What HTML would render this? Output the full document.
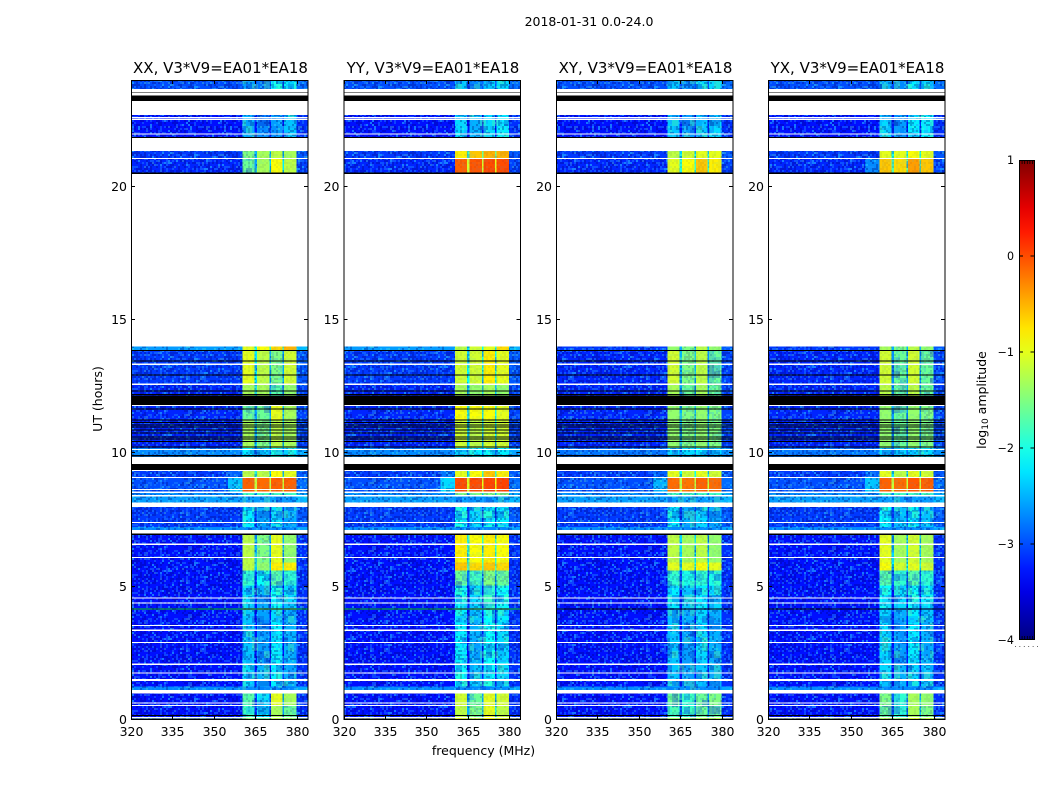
<!DOCTYPE html>
<html><head><meta charset="utf-8"><title>2018-01-31 amplitude waterfall</title>
<style>
html,body{margin:0;padding:0;background:#fff;width:1050px;height:800px;overflow:hidden}
svg{display:block}
text{font-family:"DejaVu Sans","Liberation Sans",sans-serif;fill:#000}
</style></head>
<body>
<svg id="fig" width="1050" height="800" viewBox="0 0 1050 800" xmlns="http://www.w3.org/2000/svg">
<defs>
<pattern id="speckle" width="92" height="68" patternUnits="userSpaceOnUse"></pattern>
<pattern id="mottle" width="90" height="84" patternUnits="userSpaceOnUse"></pattern>
<linearGradient id="jet-gradient" x1="0" y1="1" x2="0" y2="0"></linearGradient>
</defs>
<text x="589" y="26" font-size="12.5" text-anchor="middle">2018-01-31 0.0-24.0</text>
<text x="483.5" y="755" font-size="12.5" text-anchor="middle">frequency (MHz)</text>
<text transform="translate(102,399) rotate(-90)" font-size="12.5" text-anchor="middle">UT (hours)</text>
<text transform="translate(986,400) rotate(-90)" font-size="12.5" text-anchor="middle">log<tspan font-size="9" dy="2">10</tspan><tspan dy="-2"> amplitude</tspan></text>
<g id="panels"></g>
<g id="colorbar"></g>
</svg>
<script>
// ---- chart data ----
var panelTitles = ['XX, V3*V9=EA01*EA18','YY, V3*V9=EA01*EA18','XY, V3*V9=EA01*EA18','YX, V3*V9=EA01*EA18'];
var xTickLabels = [320,335,350,365,380];
var yTickLabels = [0,5,10,15,20];
var colorbarTicks = [1,0,-1,-2,-3,-4];
// frequency segment edges (MHz): background | shoulder | A | gap | B | gap | C | gap | D | right
var freqEdges = [320,355,360.4,364.7,365.6,370,370.6,374.7,375.4,379.8,384];
// time bands (UT hours)
var bandStart = [0,.05,.52,1,1.25,2.1,3.75,4.13,4.2,5.05,5.6,5.9,7.13,7.24,8,8.4,8.54,9.07,9.87,10.2,11.25,11.85,12.6,13.87,20.48,21.05,21.83,23.41];
var bandEnd   = [.05,.52,1,1.25,2.1,3.75,4.13,4.2,5.05,5.6,5.9,7.13,7.24,8,8.4,8.54,9.07,9.38,10.2,11.25,11.85,12.6,13.87,14,21.05,21.34,22.69,24];
// log10 amplitude per band: [background, shoulder, A, B, C, D]
var xxLevels = [
[-1.2,-1.2,-1.1,-1.1,-1.1,-1.1],
[-3.3,-3.3,-1.9,-2.2,-1.3,-1.6],[-3.3,-3.3,-1.7,-2.1,-1.0,-1.3],[-2.7,-2.7,-2.7,-2.7,-2.7,-2.7],[-3.3,-3.3,-2.3,-2.5,-2.2,-2.5],
[-3.3,-3.3,-2.4,-2.6,-2.2,-2.5],[-3.3,-3.3,-2.4,-2.5,-2.3,-2.5],[-2.3,-2.3,-1.7,-1.7,-1.7,-1.7],[-3.3,-3.3,-2.3,-2.5,-2.1,-2.3],
[-3.3,-3.3,-1.9,-2.1,-1.7,-1.9],[-3.3,-3.3,-1.2,-1.4,-0.8,-0.8],[-3.3,-3.3,-1.2,-1.5,-1.0,-1.4],[-2.7,-2.7,-2.7,-2.7,-2.7,-2.7],
[-3.1,-3.1,-2.2,-2.5,-2.3,-2.5],[-2.6,-2.6,-2.6,-2.6,-2.6,-2.6],[-2.7,-2.7,-1.8,-1.8,-1.8,-1.8],[-3.0,-2.4,-0.1,-0.15,-0.1,-0.1],
[-3.1,-2.9,-1.2,-1.2,-0.9,-1.0],[-2.7,-2.7,-2.2,-2.2,-2.0,-2.2],[-3.2,-3.2,-1.3,-1.5,-1.2,-1.3],[-3.2,-3.2,-1.6,-1.6,-1.0,-1.3],
[-3.2,-3.2,-1.3,-1.3,-1.7,-1.4],[-3.1,-3.1,-1.0,-1.2,-1.5,-1.1],[-2.6,-2.6,-1.0,-0.9,-0.7,-0.5],[-3.2,-3.2,-1.6,-1.3,-0.9,-1.2],
[-3.1,-3.1,-1.5,-1.3,-1.2,-1.3],[-3.3,-3.3,-2.5,-2.7,-2.6,-2.4],[-3.0,-3.0,-2.6,-2.8,-2.1,-2.2]];
var yyLevels = [
[-0.9,-0.9,-0.7,-0.7,-0.7,-0.7],
[-3.3,-3.3,-1.2,-1.5,-1.0,-1.2],[-3.3,-3.3,-1.1,-1.6,-1.0,-1.1],[-2.7,-2.7,-2.7,-2.7,-2.7,-2.7],[-3.3,-3.3,-2.1,-2.4,-2.1,-2.3],
[-3.3,-3.3,-2.2,-2.5,-2.1,-2.3],[-3.3,-3.3,-2.2,-2.4,-2.1,-2.2],[-2.3,-2.3,-1.8,-1.8,-1.8,-1.8],[-3.3,-3.3,-2.1,-2.3,-1.9,-2.1],
[-3.3,-3.3,-1.6,-1.8,-1.5,-1.6],[-3.3,-3.3,-0.6,-0.7,-0.6,-0.7],[-3.3,-3.3,-0.8,-0.9,-0.8,-0.9],[-2.7,-2.7,-2.7,-2.7,-2.7,-2.7],
[-3.1,-3.1,-2.1,-2.3,-2.1,-2.2],[-2.6,-2.6,-2.6,-2.6,-2.6,-2.6],[-2.7,-2.7,-1.5,-1.5,-1.5,-1.5],[-3.0,-2.3,0.0,0.0,0.05,0.05],
[-3.1,-2.8,-1.0,-0.9,-0.6,-0.8],[-2.7,-2.7,-2.2,-2.2,-2.1,-2.2],[-3.2,-3.2,-1.1,-1.2,-1.1,-1.1],[-3.2,-3.2,-0.9,-0.9,-0.9,-1.0],
[-3.2,-3.2,-1.3,-1.4,-1.3,-1.4],[-3.1,-3.1,-1.1,-1.1,-0.8,-1.0],[-2.6,-2.6,-1.2,-1.1,-1.0,-0.7],[-3.2,-3.2,-0.1,-0.05,0.0,0.0],
[-3.1,-3.1,-0.8,-0.6,-0.5,-0.5],[-3.3,-3.3,-2.3,-2.5,-2.3,-2.2],[-3.0,-3.0,-2.4,-2.7,-2.3,-2.3]];
var xyLevels = [
[-1.0,-1.0,-0.9,-0.9,-0.9,-0.9],
[-3.3,-3.3,-1.8,-1.9,-1.6,-1.6],[-3.3,-3.3,-1.6,-1.9,-1.6,-1.5],[-2.7,-2.7,-2.7,-2.7,-2.7,-2.7],[-3.3,-3.3,-2.4,-2.6,-2.4,-2.5],
[-3.3,-3.3,-2.4,-2.6,-2.3,-2.5],[-3.3,-3.3,-2.4,-2.5,-2.3,-2.4],[-3.3,-3.3,-2.6,-2.6,-2.5,-2.5],[-3.3,-3.3,-2.2,-2.4,-2.2,-2.3],
[-3.3,-3.3,-1.9,-2.0,-1.9,-2.0],[-3.3,-3.3,-1.0,-1.0,-0.9,-1.0],[-3.3,-3.3,-1.2,-1.3,-1.2,-1.4],[-2.7,-2.7,-2.7,-2.7,-2.7,-2.7],
[-3.1,-3.1,-2.2,-2.5,-2.3,-2.5],[-2.6,-2.6,-2.6,-2.6,-2.6,-2.6],[-2.7,-2.7,-1.8,-1.8,-1.8,-1.8],[-3.0,-2.5,-0.15,-0.2,-0.1,-0.15],
[-3.1,-2.9,-1.0,-1.1,-1.0,-1.1],[-2.8,-2.8,-2.3,-2.3,-2.2,-2.3],[-3.2,-3.2,-1.4,-1.5,-1.4,-1.5],[-3.2,-3.2,-1.4,-1.5,-1.4,-1.5],
[-3.2,-3.2,-1.3,-1.6,-1.3,-1.6],[-3.2,-3.2,-1.1,-1.5,-1.2,-1.6],[-3.1,-3.1,-1.4,-1.5,-1.2,-1.4],[-3.2,-3.2,-1.0,-0.9,-0.6,-0.8],
[-3.1,-3.1,-1.2,-1.1,-1.0,-1.0],[-3.3,-3.3,-2.4,-2.6,-2.4,-2.3],[-3.0,-3.0,-2.4,-2.7,-2.3,-2.3]];
var yxLevels = [
[-1.0,-1.0,-0.8,-0.8,-0.8,-0.8],
[-3.3,-3.3,-1.6,-1.9,-1.3,-1.5],[-3.3,-3.3,-1.5,-1.9,-1.3,-1.4],[-2.7,-2.7,-2.7,-2.7,-2.7,-2.7],[-3.3,-3.3,-2.3,-2.5,-2.3,-2.4],
[-3.3,-3.3,-2.3,-2.6,-2.2,-2.5],[-3.3,-3.3,-2.3,-2.5,-2.2,-2.4],[-3.3,-3.3,-2.6,-2.6,-2.5,-2.5],[-3.3,-3.3,-2.1,-2.3,-2.1,-2.2],
[-3.3,-3.3,-1.7,-1.9,-1.7,-1.9],[-3.3,-3.3,-0.9,-1.1,-1.0,-1.1],[-3.3,-3.3,-1.0,-1.3,-1.1,-1.3],[-2.7,-2.7,-2.7,-2.7,-2.7,-2.7],
[-3.1,-3.1,-2.1,-2.4,-2.2,-2.4],[-2.6,-2.6,-2.6,-2.6,-2.6,-2.6],[-2.7,-2.7,-1.8,-1.8,-1.8,-1.8],[-3.0,-2.4,-0.1,-0.15,-0.05,-0.1],
[-3.1,-2.9,-1.0,-1.2,-1.0,-1.1],[-2.8,-2.8,-2.3,-2.3,-2.2,-2.3],[-3.2,-3.2,-1.4,-1.6,-1.4,-1.5],[-3.2,-3.2,-1.4,-1.6,-1.4,-1.5],
[-3.2,-3.2,-1.2,-1.6,-1.2,-1.6],[-3.2,-3.2,-1.1,-1.6,-1.1,-1.6],[-3.1,-3.1,-1.3,-1.5,-1.2,-1.4],[-3.2,-2.7,-0.6,-0.7,-0.4,-0.6],
[-3.1,-3.1,-1.0,-1.0,-0.9,-1.0],[-3.3,-3.3,-2.3,-2.6,-2.2,-2.2],[-3.0,-3.0,-2.5,-2.7,-2.2,-2.3]];
var panelLevels = [xxLevels,yyLevels,xyLevels,yxLevels];
// flagged time ranges (UT hours)
var whiteStart = [.07,.52,.62,1,1.47,1.74,2.07,2.88,3.34,3.53,4.36,4.55,6.08,6.57,6.99,7.39,7.99,8.39,8.52,8.62,9.07,9.33,9.6,10.13,11.78,12.57,13.32,21.04,21.34,21.95,22.5,22.56,22.69,23.41,23.54];
var whiteEnd   = [.11,.56,.66,1.12,1.54,1.78,2.11,2.92,3.39,3.57,4.4,4.59,6.12,6.61,7.13,7.43,8.16,8.43,8.56,8.66,9.11,9.37,9.87,10.17,11.82,12.61,13.36,21.08,21.83,22,22.53,22.62,23.22,23.51,23.66];
var blackStart = [.15,4.15,6.93,9.38,9.89,10.21,10.42,10.51,10.6,10.75,10.86,10.96,11.04,11.13,11.23,11.64,11.81,12.19,12.32,12.91,13.45,13.83,20.47,21.83,23.22,23.51];
var blackEnd   = [.19,4.19,7.0,9.6,9.93,10.25,10.46,10.55,10.64,10.79,10.9,11.0,11.08,11.17,11.27,11.68,12.16,12.23,12.36,12.95,13.49,13.87,20.53,21.87,23.41,23.54];

// ---- scales ----
var panelLeft = [131,343.5,556,768];
var panelWidth = 177, axTop = 80, axBottom = 720;
var NS = 'http://www.w3.org/2000/svg';
function xScale(mhz, left){ return left + (mhz-320)*panelWidth/64; }
function yScale(h){ return axBottom - (h/24)*(axBottom-axTop); }
function cbY(v){ return 160 + (1-v)*96; }
function jet(v){
  var t = Math.max(0,Math.min(1,(v+4)/5));
  function c(p){ return Math.round(255*Math.max(0,Math.min(1,1.5-Math.abs(4*t-p)))); }
  return 'rgb('+c(3)+','+c(2)+','+c(1)+')';
}
function shape(parent, tag, name, attrs){
  var el = document.createElementNS(NS, tag);
  for (var k in attrs) el.setAttribute(k, attrs[k]);
  
  
  parent.appendChild(el);
  return el;
}
function rectH(parent, name, x0, x1, h0, h1, fill){
  var yTop = yScale(h1), yBot = yScale(h0);
  return shape(parent, 'rect', name, {x:x0, y:yTop, width:x1-x0, height:yBot-yTop, fill:fill, 'shape-rendering':'crispEdges'});
}
function label(parent, name, x, y, size, anchor, str){
  var t = shape(parent, 'text', name, {x:x, y:y, 'font-size':size, 'text-anchor':anchor});
  t.textContent = str;
  return t;
}
function segLevels(lv){
  var bg = lv[0];
  function gap(a,b){ return Math.max(bg, Math.min(a,b)-1.0); }
  return [bg, lv[1], lv[2], gap(lv[2],lv[3]), lv[3], gap(lv[3],lv[4]), lv[4], gap(lv[4],lv[5]), lv[5], bg+0.15];
}

// ---- decorative pixel texture (not data): fixed grain laid over the heatmap cells ----
(function(){
  var seed = 12345;
  function next(){ seed = (seed*1103515245+12345) & 0x7fffffff; return (seed>>>16)%100; }
  function fill(id, w, h, cw, ch, pick){
    var pat = document.getElementById(id);
    for (var y=0;y<h;y+=ch) for (var x=0;x<w;x+=cw){
      var p = pick(next());
      if (!p) continue;
      var r = document.createElementNS(NS,'rect');
      r.setAttribute('x',x); r.setAttribute('y',y); r.setAttribute('width',cw); r.setAttribute('height',ch);
      r.setAttribute('fill',p[0]); r.setAttribute('fill-opacity',p[1]);
      pat.appendChild(r);
    }
  }
  fill('speckle',92,68,2,2,function(n){
    if (n<6) return ['#28c8ff',.55];
    if (n<24) return ['#2090ff',.4];
    if (n<48) return ['#000078',.3];
    if (n<52) return ['#70ffb0',.28];
    return null;
  });
  fill('mottle',90,84,6,7,function(n){
    if (n<16) return ['#0018d0',.3];
    if (n<34) return ['#60ff90',.28];
    if (n<46) return ['#0060ff',.2];
    return null;
  });
})();

// ---- panels ----
var root = document.getElementById('panels');
panelTitles.forEach(function(title, p){
  var left = panelLeft[p], right = left + panelWidth;
  var g = shape(root, 'g', 'panel-'+title.slice(0,2).toLowerCase(), {});
  shape(g, 'rect', 'plot-area', {x:left, y:axTop, width:panelWidth, height:axBottom-axTop, fill:'#fff'});
  var levels = panelLevels[p];
  bandStart.forEach(function(h0, b){
    var segs = segLevels(levels[b]);
    segs.forEach(function(v, s){
      var x0 = xScale(freqEdges[s],left), x1 = xScale(freqEdges[s+1],left);
      rectH(g, 'heatmap-cell', x0, x1, h0, bandEnd[b], jet(v));
      var grain = rectH(g, 'heatmap-texture', x0, x1, h0, bandEnd[b], 'url(#speckle)');
      grain.setAttribute('opacity', v < -2 ? 1 : (v < -1.4 ? .55 : .2));
      if (s >= 2 && s <= 8 && v < -1.5 && bandEnd[b]-h0 > .2) {
        rectH(g, 'heatmap-mottle', x0, x1, h0, bandEnd[b], 'url(#mottle)');
      }
    });
  });
  whiteStart.forEach(function(h0, i){ rectH(g, 'flag-white', left, right, h0, whiteEnd[i], '#fff'); });
  blackStart.forEach(function(h0, i){ rectH(g, 'flag-black', left, right, h0, blackEnd[i], '#000'); });
  xTickLabels.forEach(function(v){
    var x = Math.round(xScale(v,left))+.5;
    shape(g,'line','x-tick',{x1:x,x2:x,y1:axBottom,y2:axBottom-4,stroke:'#000','stroke-width':1});
    shape(g,'line','x-tick-top',{x1:x,x2:x,y1:axTop,y2:axTop+4,stroke:'#000','stroke-width':1});
    label(g,'x-tick-label',x,736,12.5,'middle',String(v));
  });
  yTickLabels.forEach(function(v){
    var y = Math.round(yScale(v))-.5;
    shape(g,'line','y-tick',{x1:left,x2:left+4,y1:y,y2:y,stroke:'#000','stroke-width':1});
    shape(g,'line','y-tick-right',{x1:right,x2:right-4,y1:y,y2:y,stroke:'#000','stroke-width':1});
    label(g,'y-tick-label',left-4,y+4.5,12.5,'end',String(v));
  });
  shape(g,'rect','plot-frame',{x:left+.5,y:axTop+.5,width:panelWidth-1+.5,height:axBottom-axTop-1,fill:'none',stroke:'#000','stroke-width':1});
  label(g,'panel-title',left+panelWidth/2+1,73,15,'middle',title);
});

// ---- colorbar ----
var cb = document.getElementById('colorbar');
var grad = document.getElementById('jet-gradient');
for (var i=0;i<=20;i++){
  var stop = document.createElementNS(NS,'stop');
  stop.setAttribute('offset',(i*5)+'%');
  stop.setAttribute('stop-color',jet(-4+i*0.25));
  grad.appendChild(stop);
}
shape(cb,'rect','colorbar-gradient',{x:1019,y:160,width:15.5,height:480,fill:'url(#jet-gradient)'});
colorbarTicks.forEach(function(v){
  var y = cbY(v);
  if (v>-4 && v<1){
    shape(cb,'line','colorbar-tick',{x1:1019,x2:1023,y1:y,y2:y,stroke:'#000','stroke-width':1});
    shape(cb,'line','colorbar-tick-right',{x1:1030.5,x2:1034.5,y1:y,y2:y,stroke:'#000','stroke-width':1});
  }
  label(cb,'colorbar-tick-label',1014,y+4,11.1,'end',(v<0?'\u2212'+(-v):String(v)));
});
[1,2,3,4,5].forEach(function(k){
  var x = 1019.5 + k*2.6;
  shape(cb,'line','colorbar-minor-tick',{x1:x,x2:x,y1:160,y2:164,stroke:'#000','stroke-width':.8});
  shape(cb,'line','colorbar-minor-tick-bottom',{x1:x,x2:x,y1:636,y2:640,stroke:'#000','stroke-width':.8});
});
shape(cb,'rect','colorbar-frame',{x:1019.5,y:160.5,width:15,height:479,fill:'none',stroke:'#000','stroke-width':1});
label(cb,'colorbar-dots',1026.5,647,7,'middle','. . . . . .').setAttribute('fill','#777');
</script>
</body></html>
